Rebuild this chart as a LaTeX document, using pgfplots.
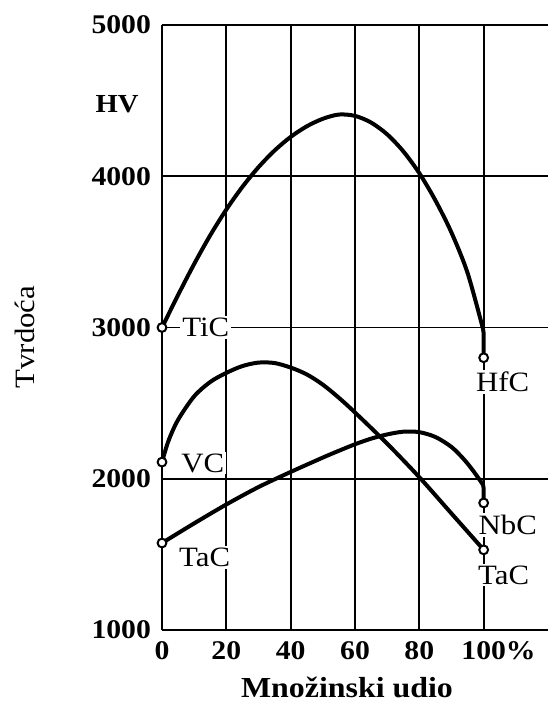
\documentclass[border=0pt]{standalone}
\usepackage{fontspec}
\setmainfont{Liberation Serif}[FakeStretch=1.1]
\usepackage{pgfplots}
\pgfplotsset{compat=1.18}
\begin{document}
\begin{tikzpicture}
\path[use as bounding box] (0,0) rectangle (274pt,352pt);
\begin{axis}[
  at={(81pt,37pt)}, anchor=south west,
  scale only axis, width=193pt, height=302.5pt,
  xmin=0, xmax=120, ymin=1000, ymax=5000,
  axis x line*=bottom, axis y line*=left,
  axis line style={line width=1.4pt, -},
  xtick={0,20,40,60,80,100},
  xticklabels={0,20,40,60,80,100\rlap{\%}},
  ytick={1000,2000,3000,4000,5000},
  major tick length=0pt,
  grid=major, grid style={black, line width=0.9pt},
  /pgf/number format/assume math mode=true,
  /pgf/number format/1000 sep={},
  ticklabel style={font=\fontsize{13.5}{15}\selectfont\bfseries},
  yticklabel style={xshift=-2pt},
  xticklabel style={yshift=-2pt},
  clip=false,
]
% TiC - HfC
\addplot[line width=2pt, smooth] coordinates {
(0,3000) (5,3215) (10,3420) (15,3610) (20,3780) (25,3930) (30,4060) (35,4170)
(40,4260) (45,4330) (50,4380) (55,4408) (60,4399) (65,4355) (70,4277)
(75,4165) (80,4020) (85,3840) (90,3627) (95,3360) (99.8,2990)
};
\addplot[line width=2pt] coordinates {(99.8,2990) (100,2960) (100,2800)};
% VC - TaC
\addplot[line width=2pt, smooth] coordinates {
(0,2110) (2,2250) (5,2390) (10,2545) (15,2640) (20,2700) (25,2745) (30,2768)
(35,2765) (40,2735) (45,2690) (50,2622) (55,2535) (60,2438) (70,2232) (80,2010)
(90,1770) (100,1530)
};
% TaC - NbC
\addplot[line width=2pt, smooth] coordinates {
(0,1575) (10,1705) (20,1830) (30,1945) (40,2045) (50,2140) (55,2185) (60,2228)
(65,2265) (70,2293) (75,2311) (80,2308) (85,2276) (90,2210) (94,2125) (97,2045)
(99.8,1960)
};
\addplot[line width=2pt] coordinates {(99.8,1960) (100,1935) (100,1840)};
% end points
\addplot[only marks, mark=*, mark size=2.2pt,
  mark options={fill=white, draw=black, line width=1pt}] coordinates {
(0,3000) (100,2800) (0,2110) (100,1530) (0,1575) (100,1840)
};
\node[fill=white, inner sep=1pt, anchor=west, font=\fontsize{14}{16}\selectfont] at (axis cs:5.6,3000) {TiC};
\node[fill=white, inner sep=1pt, anchor=west, font=\fontsize{14}{16}\selectfont] at (axis cs:5.3,2104) {VC};
\node[fill=white, inner sep=1pt, anchor=west, font=\fontsize{14}{16}\selectfont] at (axis cs:4.6,1482) {TaC};
\node[fill=white, inner sep=1pt, font=\fontsize{14}{16}\selectfont] at (axis cs:105.9,2639) {HfC};
\node[fill=white, inner sep=1pt, font=\fontsize{14}{16}\selectfont] at (axis cs:107.5,1694) {NbC};
\node[fill=white, inner sep=1pt, font=\fontsize{14}{16}\selectfont] at (axis cs:106.2,1364) {TaC};
\end{axis}
\node[font=\bfseries\fontsize{13}{15}\selectfont] at (58.5pt,300pt) {HV};
\node[rotate=90, font=\fontsize{14}{16}\selectfont] at (12.5pt,183.5pt) {Tvrdoća};
\node[anchor=base, inner sep=0pt, font=\bfseries\fontsize{14.5}{16}\selectfont] at (173.5pt,3pt) {Množinski udio};
\end{tikzpicture}
\end{document}
